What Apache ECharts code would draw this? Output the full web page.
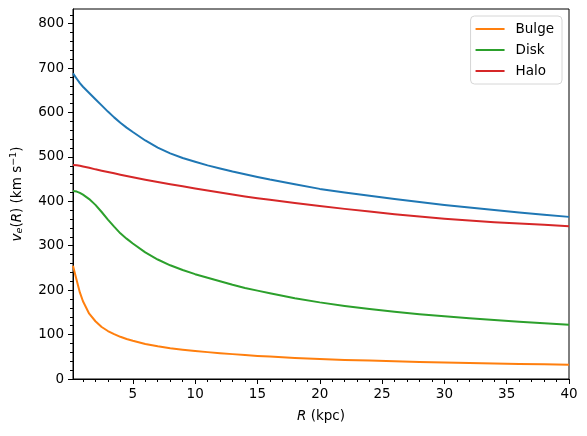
<!DOCTYPE html>
<html>
<head>
<meta charset="utf-8">
<script src="https://cdn.jsdelivr.net/npm/echarts@6/dist/echarts.min.js"></script>
<style>
  html, body { margin: 0; padding: 0; background: #fff; }
  #main { width: 587px; height: 436px; }
</style>
</head>
<body>
<div id="main"></div>
<script>
// radius (kpc) and escape velocities (km/s)
const radius = [0.2, 0.35, 0.5, 0.75, 1, 1.5, 2, 2.5, 3, 3.5, 4, 4.5, 5, 6, 7, 8, 9, 10, 11, 12, 13, 14, 15, 16, 18, 20, 22, 24, 26, 28, 30, 32, 34, 36, 38, 40]
const total = [688, 682, 676, 666, 658, 644, 630, 616, 602, 589, 577, 566, 556, 537, 521, 508, 497.5, 489, 481, 474, 467, 461, 455, 449, 438.5, 428, 420, 412.5, 405.5, 398.5, 392, 386, 380.5, 375, 370, 365]
const bulge = [255, 238, 222, 195, 175, 147, 130, 117, 108, 101, 95, 90, 86, 79, 73.5, 69, 66, 63, 60.5, 58, 56, 54, 52, 50.5, 47.5, 45, 43, 41.5, 40, 38.5, 37.3, 36, 35, 34, 33, 32]
const disk = [423, 423, 422, 419, 415, 405, 392, 376, 359, 343, 328, 316, 305, 285, 269, 256, 245.5, 236, 228, 220, 212, 205, 199, 193, 182, 172.5, 164.5, 157.5, 151.5, 146, 141, 137, 133, 129, 125.5, 122]
const halo = [482, 481.5, 481, 480, 478.5, 475.5, 472, 469, 466, 463, 460, 457, 454, 448.5, 443.5, 438.5, 434, 429, 424.5, 420, 415.5, 411, 407, 403.5, 396, 389.5, 383, 377, 371, 366, 361, 357, 353, 350, 347, 344]

const xTicks = [5, 10, 15, 20, 25, 30, 35, 40]
const xMinorTicks = [1, 2, 3, 4, 6, 7, 8, 9, 11, 12, 13, 14, 16, 17, 18, 19, 21, 22, 23, 24, 26, 27, 28, 29, 31, 32, 33, 34, 36, 37, 38, 39]
const yTicks = [0, 100, 200, 300, 400, 500, 600, 700, 800]
const yMinorTicks = [20, 40, 60, 80, 120, 140, 160, 180, 220, 240, 260, 280, 320, 340, 360, 380, 420, 440, 460, 480, 520, 540, 560, 580, 620, 640, 660, 680, 720, 740, 760, 780, 820]

const FONT = '"DejaVu Sans", sans-serif'
const X_MIN = 0.2
const X_MAX = 40
const Y_MAX = 833

const pairs = (ys) => radius.map((r, i) => [r, ys[i]])

const lineSeries = function (name, ys, color) {
  return {
    name: name,
    type: 'line',
    data: pairs(ys),
    showSymbol: false,
    symbol: 'none',
    smooth: false,
    lineStyle: { color: color, width: 2, join: 'round' },
    itemStyle: { color: color },
    silent: true,
  }
}

const minorAxis = function (extra) {
  return Object.assign(
    {
      type: 'value',
      axisLine: { show: false },
      axisLabel: { show: false },
      splitLine: { show: false },
      axisTick: { show: true, length: 3, lineStyle: { color: '#000', width: 1 } },
    },
    extra,
  )
}

const option = {
  backgroundColor: '#fff',
  animation: false,
  textStyle: { fontFamily: FONT },
  grid: {
    left: 73,
    right: 18,
    top: 9,
    bottom: 57,
    show: true,
    borderColor: '#000',
    borderWidth: 1,
    backgroundColor: 'transparent',
  },
  legend: {
    orient: 'vertical',
    right: 25,
    top: 16,
    data: ['Bulge', 'Disk', 'Halo'],
    icon: 'rect',
    itemWidth: 29,
    itemHeight: 2,
    itemGap: 7,
    padding: [6, 8, 6, 5],
    borderColor: '#d6d6d6',
    borderWidth: 1,
    borderRadius: 4,
    backgroundColor: 'rgba(255,255,255,0.8)',
    textStyle: { fontFamily: FONT, fontSize: 13.5, color: '#000', padding: [0, 0, 0, 6] },
  },
  xAxis: [
    {
      type: 'value',
      min: X_MIN,
      max: X_MAX,
      name: '{i|R} (kpc)',
      nameLocation: 'middle',
      nameGap: 30,
      nameTextStyle: {
        fontFamily: FONT,
        fontSize: 13.5,
        color: '#000',
        rich: { i: { fontFamily: FONT, fontStyle: 'italic', fontSize: 13.5, color: '#000' } },
      },
      axisLine: { show: true, onZero: false, lineStyle: { color: '#000', width: 1 } },
      axisTick: { show: true, length: 5, customValues: xTicks, lineStyle: { color: '#000', width: 1 } },
      axisLabel: { customValues: xTicks, margin: 8, fontFamily: FONT, fontSize: 13.5, color: '#000' },
      splitLine: { show: false },
    },
    minorAxis({ min: X_MIN, max: X_MAX, position: 'bottom', axisTick: { show: true, length: 3, customValues: xMinorTicks, lineStyle: { color: '#000', width: 1 } } }),
  ],
  yAxis: [
    {
      type: 'value',
      min: 0,
      max: Y_MAX,
      name: '{i|v}{sub|e}({i|R}) (km s{sup|−1})',
      nameLocation: 'middle',
      nameGap: 48,
      nameRotate: 90,
      nameTextStyle: {
        fontFamily: FONT,
        fontSize: 13.5,
        color: '#000',
        rich: {
          i: { fontFamily: FONT, fontStyle: 'italic', fontSize: 13.5, color: '#000' },
          sub: { fontFamily: FONT, fontStyle: 'italic', fontSize: 9.5, color: '#000', verticalAlign: 'bottom', padding: [6, 0, 0, 0] },
          sup: { fontFamily: FONT, fontSize: 9.5, color: '#000', verticalAlign: 'top', padding: [0, 0, 6, 0] },
        },
      },
      axisLine: { show: true, onZero: false, lineStyle: { color: '#000', width: 1 } },
      axisTick: { show: true, length: 5, customValues: yTicks, lineStyle: { color: '#000', width: 1 } },
      axisLabel: { customValues: yTicks, margin: 9, fontFamily: FONT, fontSize: 13.5, color: '#000' },
      splitLine: { show: false },
    },
    minorAxis({ min: 0, max: Y_MAX, position: 'left', axisTick: { show: true, length: 3, customValues: yMinorTicks, lineStyle: { color: '#000', width: 1 } } }),
  ],
  series: [
    lineSeries('Total', total, '#1f77b4'),
    lineSeries('Bulge', bulge, '#ff7f0e'),
    lineSeries('Disk', disk, '#2ca02c'),
    lineSeries('Halo', halo, '#d62728'),
  ],
}

const chart = echarts.init(document.getElementById('main'), null, { renderer: 'canvas' })
chart.setOption(option)
</script>
</body>
</html>
